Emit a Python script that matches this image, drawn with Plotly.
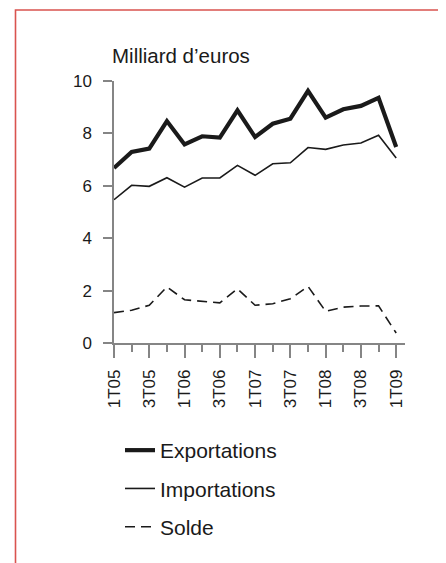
import plotly.graph_objects as go

quarters = ["1T05", "2T05", "3T05", "4T05", "1T06", "2T06", "3T06", "4T06",
            "1T07", "2T07", "3T07", "4T07", "1T08", "2T08", "3T08", "4T08", "1T09"]
exportations = [6.68, 7.29, 7.42, 8.47, 7.58, 7.89, 7.84, 8.88, 7.86, 8.37, 8.56,
                9.62, 8.60, 8.92, 9.05, 9.36, 7.48]
importations = [5.47, 6.02, 5.98, 6.31, 5.95, 6.30, 6.30, 6.78, 6.40, 6.84, 6.88,
                7.46, 7.39, 7.56, 7.63, 7.93, 7.06]
solde = [1.16, 1.25, 1.44, 2.14, 1.65, 1.59, 1.53, 2.07, 1.44, 1.50, 1.69,
         2.16, 1.21, 1.37, 1.41, 1.42, 0.38]
tick_labels = ["1T05", "3T05", "1T06", "3T06", "1T07", "3T07", "1T08", "3T08", "1T09"]

xs = list(range(len(quarters)))
ink = "#1a1a1a"
axis_gray = "#858585"
font_family = "Arial, Liberation Sans, sans-serif"

fig = go.Figure()
fig.add_trace(go.Scatter(x=xs, y=exportations, mode="lines", name="Exportations",
                         line=dict(color=ink, width=4.2), legendgroup="a"))
fig.add_trace(go.Scatter(x=xs, y=importations, mode="lines", name="Importations",
                         line=dict(color=ink, width=1.6), legendgroup="b"))
fig.add_trace(go.Scatter(x=xs, y=solde, mode="lines", name="Solde",
                         line=dict(color=ink, width=1.6, dash="10px,6px"), legendgroup="c"))

OFF = 8  # browser body margin
W, H = 446 - OFF, 563 - OFF
L, R, T, B = 114 - OFF, 405 - OFF, 81 - OFF, 343 - OFF

def px_x(p):
    return (p - OFF - L) / (R - L)

def px_y(p):
    return (B - (p - OFF)) / (B - T)

fig.update_layout(
    width=W, height=H,
    margin=dict(l=L, r=W - R, t=T, b=H - B, pad=0),
    paper_bgcolor="white", plot_bgcolor="white",
    font=dict(family=font_family, size=17, color=ink),
    showlegend=True,
    legend=dict(x=px_x(120), y=px_y(430), xanchor="left", yanchor="top",
                font=dict(size=21, color=ink), tracegroupgap=8,
                traceorder="grouped", bgcolor="rgba(0,0,0,0)", borderwidth=0),
    xaxis=dict(range=[0, 16.5], tickmode="array",
               tickvals=[quarters.index(t) for t in tick_labels], ticktext=tick_labels,
               tickangle=-90, ticks="outside", ticklen=13, tickwidth=1.5,
               tickcolor=axis_gray, showline=True, linecolor=axis_gray, linewidth=1.5,
               showgrid=False, zeroline=False, fixedrange=True, ticklabelstandoff=5,
               minor=dict(ticks="outside", ticklen=7, tickwidth=1.5,
                          tickcolor=axis_gray, dtick=1, tick0=0, showgrid=False),
               tickfont=dict(size=17, color=ink)),
    yaxis=dict(range=[0, 10], dtick=2, ticks="outside", ticklen=9, tickwidth=1.5,
               tickcolor=axis_gray, showline=True, linecolor=axis_gray, linewidth=1.5,
               showgrid=False, zeroline=False, fixedrange=True, ticklabelstandoff=8,
               tickfont=dict(size=17, color=ink)),
    annotations=[dict(text="Milliard d’euros", xref="paper", yref="paper",
                      x=px_x(110), y=px_y(56), xanchor="left", yanchor="middle",
                      showarrow=False, font=dict(size=20.5, color=ink))],
    shapes=[dict(type="path", xref="paper", yref="paper",
                 path=f"M {px_x(15.5)},{px_y(575)} L {px_x(15.5)},{px_y(10)} L {px_x(460)},{px_y(10)}",
                 line=dict(color="#d9534f", width=1.6), layer="above")],
)

fig.write_html("out.html")
